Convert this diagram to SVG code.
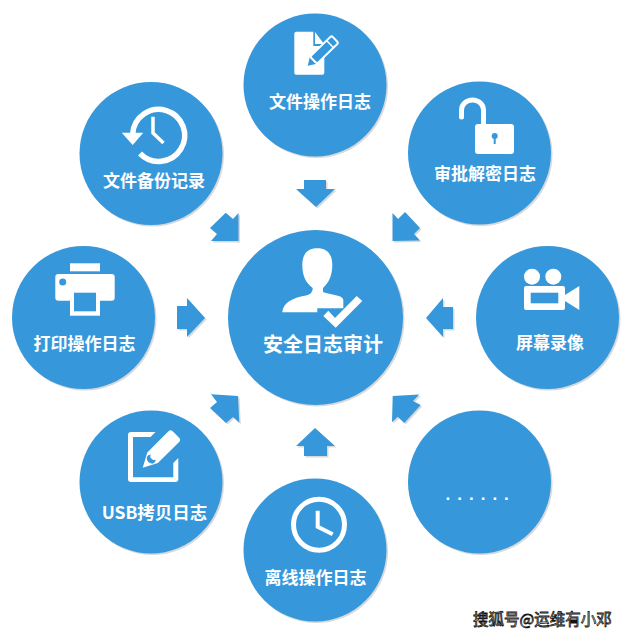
<svg xmlns="http://www.w3.org/2000/svg" width="627" height="636" viewBox="0 0 627 636">
<style>
.disc{fill:#3698db}
.rim{fill:#d9d9d9}
.label{font-family:"Noto Sans CJK SC","Liberation Sans",sans-serif;font-weight:700;font-size:17px;fill:#fff;text-anchor:middle}
.w{fill:#fff}
.b{fill:#3698db}
.ws{fill:none;stroke:#fff}
.arrow{fill:#3698db}
.arrow-rim{fill:#d9d9d9}
</style>
<rect width="627" height="636" fill="#fff"/>

<g id="connectors">
<g transform="translate(1.500 1.500)" class="arrow-rim">
<polygon points="304,180 326,180 326,189 335,189 316,207 296,189 304,189"/>
<polygon points="177,306 187,306 187,298 205,318 187,337 187,329 177,329"/>
<polygon points="453,307 443,307 443,298 426,318 443,337 443,329 453,329"/>
<polygon points="304,456 327,456 327,446 335,446 315,428 296,446 304,446"/>
<polygon points="238.500,241 238.500,213 233,219 225.700,212.700 210,228 217,234 211,241"/>
<polygon points="392.500,241 392.500,213 398,219 405,212 420,228 414,234 420,240.500"/>
<polygon points="238,396 211,394.300 217,402 210,408 226,423 233,417 239.300,422.700"/>
<polygon points="392.700,396 419.300,394.500 413,401 420.700,405 404.300,423 397.700,416.700 392,422.300"/>
</g>
<g class="arrow">
<polygon points="304,180 326,180 326,189 335,189 316,207 296,189 304,189"/>
<polygon points="177,306 187,306 187,298 205,318 187,337 187,329 177,329"/>
<polygon points="453,307 443,307 443,298 426,318 443,337 443,329 453,329"/>
<polygon points="304,456 327,456 327,446 335,446 315,428 296,446 304,446"/>
<polygon points="238.500,241 238.500,213 233,219 225.700,212.700 210,228 217,234 211,241"/>
<polygon points="392.500,241 392.500,213 398,219 405,212 420,228 414,234 420,240.500"/>
<polygon points="238,396 211,394.300 217,402 210,408 226,423 233,417 239.300,422.700"/>
<polygon points="392.700,396 419.300,394.500 413,401 420.700,405 404.300,423 397.700,416.700 392,422.300"/>
</g>
</g>

<g id="node-file-ops">
<circle class="rim" cx="316.500" cy="86.500" r="71.500"/>
<circle class="disc" cx="315" cy="85" r="71.500"/>
<path class="w" d="M296 31.700H313.300V46H324.300V72.700a2 2 0 0 1-2 2H296.300a2 2 0 0 1-2-2V33.700a2 2 0 0 1 1.700-2z"/>
<polygon class="w" points="315,32 324,44 315,44"/>
<g transform="translate(307.700 65.700) rotate(-44)">
<path class="b" d="M0 0L8 -5V5z"/>
<rect class="b" x="8" y="-5" width="30" height="10" rx="2" stroke="#fff" stroke-width="2"/>
<path class="ws" stroke-width="1.500" d="M31 -5V5"/>
</g>
<text class="label" x="320" y="108">文件操作日志</text>
</g>

<g id="node-approval">
<circle class="rim" cx="481" cy="154.500" r="71.500"/>
<circle class="disc" cx="479.500" cy="153" r="71.500"/>
<path class="ws" stroke-width="5" stroke-linecap="round" d="M461.500 117V110a11 10 0 0 1 22 0V125"/>
<rect class="w" x="475" y="124" width="39" height="30" rx="3"/>
<circle class="b" cx="494.700" cy="136" r="3"/>
<rect class="b" x="493.700" y="137" width="2" height="7"/>
<text class="label" x="485" y="180">审批解密日志</text>
</g>

<g id="node-backup">
<circle class="rim" cx="152.500" cy="155" r="71.500"/>
<circle class="disc" cx="151" cy="153.500" r="71.500"/>
<path class="ws" stroke-width="5.500" d="M132.700 134A26 26 0 1 1 140 153.500"/>
<polygon class="w" points="121.700,132.700 143.300,132.700 132.700,145"/>
<path class="ws" stroke-width="3.500" d="M153 116.700V133L163.500 143"/>
<text class="label" x="154" y="186.500">文件备份记录</text>
</g>

<g id="node-print">
<circle class="rim" cx="85" cy="319" r="71.500"/>
<circle class="disc" cx="83.500" cy="317.500" r="71.500"/>
<rect class="w" x="70" y="263.300" width="30" height="8"/>
<rect class="w" x="55.300" y="274" width="59.400" height="26.700" rx="3"/>
<circle class="b" cx="62.700" cy="282" r="3.500"/>
<rect class="w" x="70" y="292.700" width="30" height="23"/>
<rect class="b" x="74" y="292.700" width="22" height="18.600"/>
<text class="label" x="84.500" y="349.500">打印操作日志</text>
</g>

<g id="node-audit">
<circle class="rim" cx="317" cy="319" r="87.500"/>
<circle class="disc" cx="315.500" cy="317.500" r="87.500"/>
<path class="w" d="M317.300 248.300C327 248.300 332.300 254 332.300 265C332.300 276 328.500 283 323 288V292C331 295 343.300 295 343.300 300V308.300H317.300V312.300H282.300C283 303 292 298 306 295.500C310.500 294.500 312.700 292 312.700 288C306 283 302.300 276 302.300 265C302.300 254 307.500 248.300 317.300 248.300z"/>
<polygon class="w" points="323.300,316 328.300,310.700 335,318 356.700,296 362.300,301 335.700,327.700"/>
<text class="label" style="font-size:20px" x="323" y="352">安全日志审计</text>
</g>

<g id="node-screen">
<circle class="rim" cx="549" cy="319" r="71.500"/>
<circle class="disc" cx="547.500" cy="317.500" r="71.500"/>
<circle class="w" cx="532" cy="276.700" r="8"/>
<circle class="w" cx="553.300" cy="276.700" r="8"/>
<rect class="w" x="524" y="286" width="41" height="24" rx="2"/>
<rect class="b" x="530.700" y="292.700" width="27.600" height="10.600"/>
<polygon class="w" points="565,295 579.300,286 579.300,310 565,301"/>
<text class="label" x="550" y="349">屏幕录像</text>
</g>

<g id="node-usb">
<circle class="rim" cx="152.500" cy="483.500" r="71.500"/>
<circle class="disc" cx="151" cy="482" r="71.500"/>
<path class="w" d="M131 432H155.500L150.500 437H133V477.300H173.300V463L178.300 458V479a3 3 0 0 1-3 3H131a3 3 0 0 1-3-3V435a3 3 0 0 1 3-3z"/>
<g transform="translate(142.700 467.700) rotate(-45)">
<path class="w" d="M0 0L14 -7.500H44a3 3 0 0 1 3 3V4.500a3 3 0 0 1-3 3H14z"/>
<ellipse class="b" cx="12" cy="0" rx="4" ry="4.800"/>
<circle class="w" cx="16" cy="0" r="3.500"/>
</g>
<text class="label" style="font-size:17.500px" x="154.500" y="518.500">USB拷贝日志</text>
</g>

<g id="node-offline">
<circle class="rim" cx="316.500" cy="551.500" r="71.500"/>
<circle class="disc" cx="315" cy="550" r="71.500"/>
<circle class="ws" stroke-width="5" cx="319" cy="524.700" r="25.500"/>
<path class="ws" stroke-width="4" d="M317.700 510.700V526.700L332.700 534.300"/>
<text class="label" x="315.500" y="584">离线操作日志</text>
</g>

<g id="node-more">
<circle class="rim" cx="481" cy="483.500" r="71.500"/>
<circle class="disc" cx="479.500" cy="482" r="71.500"/>
<text x="445.500" y="500" style="font-family:'Liberation Sans',sans-serif;font-weight:700;font-size:17px;letter-spacing:7px;fill:#fff">......</text>
</g>

<text x="473" y="625" style="font-family:'Noto Sans CJK SC',sans-serif;font-size:15.500px;fill:#fff;stroke:#111;stroke-width:.8px">搜狐号@运维有小邓</text>
</svg>
